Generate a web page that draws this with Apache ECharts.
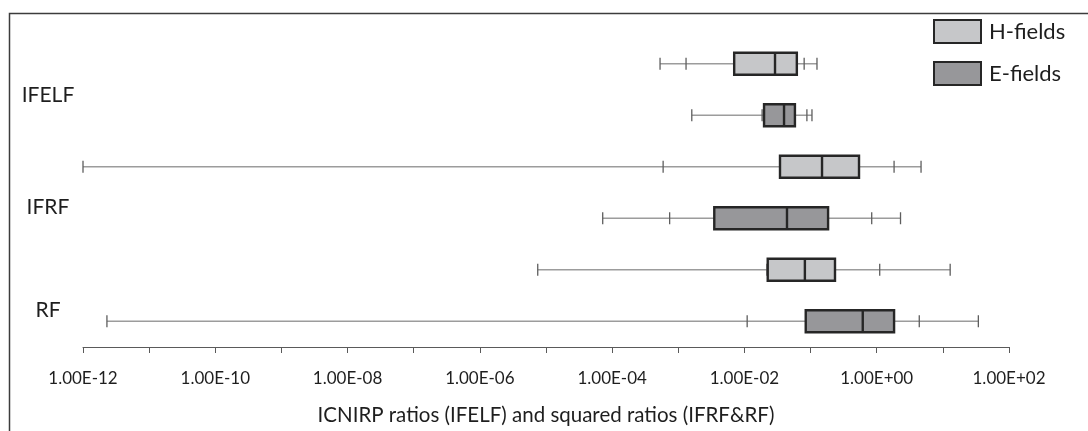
<!DOCTYPE html>
<html>
<head>
<meta charset="utf-8">
<script src="https://cdn.jsdelivr.net/npm/echarts@6/dist/echarts.min.js"></script>
<style>
  html, body { margin: 0; padding: 0; background: #ffffff; }
  #chart { width: 1088px; height: 431px; }
</style>
</head>
<body>
<div id="chart"></div>
<script>
// ---- data ----
// row order top to bottom; groups shown on the left
const groups = ['IFELF', 'IFRF', 'RF'];
const fields = ['H-fields', 'E-fields'];
const rowNames = ['IFELF H', 'IFELF E', 'IFRF H', 'IFRF E', 'RF H', 'RF E'];
// each box: [min, p5, q1, median, q3, p95, max]
const ifelfH = [5.3e-4, 1.31e-3, 7.0e-3, 2.9e-2, 6.2e-2, 8.0e-2, 0.125];
const ifelfE = [1.6e-3, 1.85e-2, 1.98e-2, 3.97e-2, 5.8e-2, 8.8e-2, 0.105];
const ifrfH  = [1.0e-12, 5.9e-4, 3.45e-2, 0.149, 0.54, 1.83, 4.68];
const ifrfE  = [7.2e-5, 7.4e-4, 3.5e-3, 4.4e-2, 0.184, 0.84, 2.29];
const rfH    = [7.5e-6, 2.19e-2, 2.25e-2, 8.2e-2, 0.234, 1.11, 12.9];
const rfE    = [2.3e-12, 1.1e-2, 8.45e-2, 0.615, 1.83, 4.4, 34.4];
// axis range (decades) and tick label every second decade
const axisMinExp = -12, axisMaxExp = 2;
const xTitle = 'ICNIRP ratios (IFELF) and squared ratios (IFRF&RF)';

const FONT = 'Lato, "Open Sans", sans-serif';
const hFill = '#c6c7c9', eFill = '#97979a', edge = '#262626';

// the x axis is logarithmic: positions are log10 of each value
const toLog = arr => arr.map(v => Math.log10(v));
const hData = [[0].concat(toLog(ifelfH)), [2].concat(toLog(ifrfH)), [4].concat(toLog(rfH))];
const eData = [[1].concat(toLog(ifelfE)), [3].concat(toLog(ifrfE)), [5].concat(toLog(rfE))];

function renderBox(params, api) {
  const row = api.value(0);
  const v = [1,2,3,4,5,6,7].map(i => api.value(i));
  const p = v.map(x => api.coord([x, row]));
  const y = p[0][1];
  const bh = 22, th = 12;
  const fill = api.visual('color');
  const children = [];
  children.push({ type: 'line', shape: { x1: p[0][0], y1: y, x2: p[6][0], y2: y },
    style: { stroke: '#9c9c9c', lineWidth: 1.6 } });
  [0, 1, 5, 6].forEach(i => {
    children.push({ type: 'line', shape: { x1: p[i][0], y1: y - th/2, x2: p[i][0], y2: y + th/2 },
      style: { stroke: '#5e5e5e', lineWidth: 1.3 } });
  });
  children.push({ type: 'rect', shape: { x: p[2][0], y: y - bh/2, width: p[4][0] - p[2][0], height: bh },
    style: { fill: fill, stroke: edge, lineWidth: 2.4 } });
  children.push({ type: 'line', shape: { x1: p[3][0], y1: y - bh/2, x2: p[3][0], y2: y + bh/2 },
    style: { stroke: edge, lineWidth: 2.4 } });
  return { type: 'group', children: children };
}

function expLabel(e) {
  e = Math.round(e);
  if (e % 2 !== 0) return '';
  return '1.00E' + (e < 0 ? '-' : '+') + String(Math.abs(e)).padStart(2, '0');
}

const chart = echarts.init(document.getElementById('chart'), null, { renderer: 'canvas' });
chart.setOption({
  animation: false,
  backgroundColor: '#ffffff',
  textStyle: { fontFamily: FONT },
  grid: { left: 83, right: 79, top: 38, height: 312 },
  legend: {
    orient: 'vertical', left: 933, top: 19, padding: 0,
    itemWidth: 47, itemHeight: 23, itemGap: 17, icon: 'rect',
    textStyle: { fontFamily: FONT, fontSize: 22, color: '#1e1e1e', padding: [0, 0, 0, 3] },
    data: [
      { name: fields[0], itemStyle: { color: hFill, borderColor: edge, borderWidth: 2 } },
      { name: fields[1], itemStyle: { color: eFill, borderColor: edge, borderWidth: 2 } }
    ]
  },
  xAxis: {
    type: 'value', min: axisMinExp, max: axisMaxExp, interval: 1,
    axisLine: { show: true, onZero: false, lineStyle: { color: '#5a5a5a', width: 1 } },
    axisTick: { show: true, length: 6, lineStyle: { color: '#5a5a5a', width: 1 } },
    splitLine: { show: false },
    axisLabel: { formatter: expLabel, fontFamily: FONT, fontSize: 17, color: '#1e1e1e', margin: 23 },
    name: xTitle, nameLocation: 'middle', nameGap: 58,
    nameTextStyle: { fontFamily: FONT, fontSize: 20.5, color: '#1e1e1e' }
  },
  yAxis: {
    type: 'category', inverse: true, data: rowNames,
    axisLine: { show: false }, axisTick: { show: false }, splitLine: { show: false },
    axisLabel: {
      interval: 0, margin: 35, align: 'center',
      formatter: function (val, idx) {
        if (idx % 2 !== 1) return '';
        const g = (idx - 1) / 2;
        return '{g' + g + '|' + groups[g] + '}';
      },
      rich: {
        g0: { fontFamily: FONT, fontSize: 21, color: '#1e1e1e', padding: [0, 0, 40, 0] },
        g1: { fontFamily: FONT, fontSize: 21, color: '#1e1e1e', padding: [0, 0, 22, 0] },
        g2: { fontFamily: FONT, fontSize: 21, color: '#1e1e1e', padding: [0, 0, 22, 0] }
      }
    }
  },
  graphic: [{
    type: 'polyline', silent: true,
    shape: { points: [[9.5, 432], [9.5, 13.5], [1090, 13.5]] },
    style: { stroke: '#3c3c3c', lineWidth: 1.5, fill: null }
  }],
  series: [
    { name: fields[0], type: 'custom', renderItem: renderBox, itemStyle: { color: hFill },
      encode: { x: [1,2,3,4,5,6,7], y: 0 }, data: hData },
    { name: fields[1], type: 'custom', renderItem: renderBox, itemStyle: { color: eFill },
      encode: { x: [1,2,3,4,5,6,7], y: 0 }, data: eData }
  ]
});
</script>
</body>
</html>
